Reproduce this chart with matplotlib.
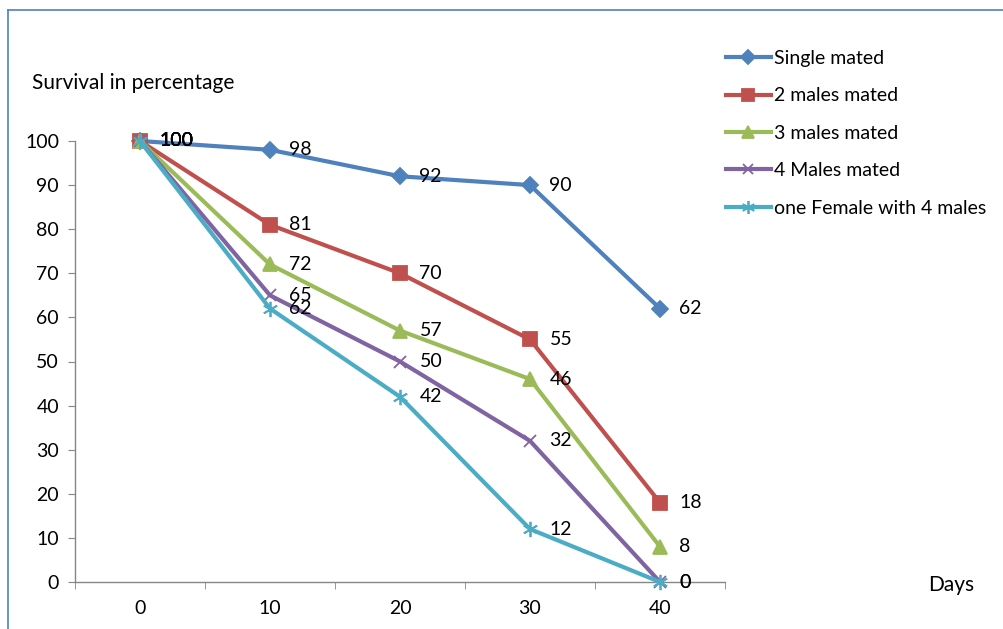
import numpy as np
import matplotlib.pyplot as plt

plt.rcParams['font.family'] = ['Lato', 'DejaVu Sans']

days = ['0', '10', '20', '30', '40']
single = [100, 98, 92, 90, 62]
two_males = [100, 81, 70, 55, 18]
three_males = [100, 72, 57, 46, 8]
four_males = [100, 65, 50, 32, 0]
female_four = [100, 62, 42, 12, 0]

series = [
    ('Single mated', single, '#4F81BD', 'D', 8),
    ('2 males mated', two_males, '#C0504D', 's', 10),
    ('3 males mated', three_males, '#9BBB59', '^', 10),
    ('4 Males mated', four_males, '#8064A2', 'x', 9),
    ('one Female with 4 males', female_four, '#4BACC6', (6, 2, 0), 11),
]

fig = plt.figure(figsize=(10.04, 6.29), dpi=100)
ax = fig.add_axes([75/1004, 1 - 582/629, 650/1004, 441/629])

x = np.arange(len(days))
for name, vals, col, mk, ms in series:
    ax.plot(x, vals, color=col, lw=3, marker=mk, ms=ms, mew=1.3,
            mec=col, mfc=col, label=name, clip_on=False, zorder=3)
    for xi, v in zip(x, vals):
        ax.annotate(str(v), (xi, v), xytext=(14, 0), textcoords='offset points',
                    va='center', ha='left', fontsize=14, color='black')

ax.set_xlim(-0.5, 4.5)
ax.set_ylim(0, 100)
ax.set_yticks(range(0, 101, 10))
ax.set_xticks(x)
ax.set_xticklabels(days)
ax.set_xticks(np.arange(-0.5, 5, 1), minor=True)
ax.tick_params(axis='x', which='major', length=0, pad=13, labelsize=14)
ax.tick_params(axis='x', which='minor', length=5, color='#868686', direction='out')
ax.tick_params(axis='y', length=5, color='#868686', pad=6.5, labelsize=14)

for side in ['top', 'right']:
    ax.spines[side].set_visible(False)
for side in ['left', 'bottom']:
    ax.spines[side].set_color('#868686')
    ax.spines[side].set_linewidth(1)

fig.text(32/1004, 1 - 83/629, 'Survival in percentage', fontsize=15, va='center', ha='left')
fig.text(951/1004, 1 - 585/629, 'Days', fontsize=15, va='center', ha='center')

leg = fig.legend(loc='upper left', bbox_to_anchor=(726/1004, 1 - 50/629), frameon=False,
                 fontsize=14, handlelength=2.3, labelspacing=1.05, handletextpad=0.15,
                 borderaxespad=0, borderpad=0, markerscale=0.85)

# chart frame
fig.add_artist(plt.Line2D([8/1004, 8/1004], [0, 1 - 10/629], color='#4F81BD', lw=1.2))
fig.add_artist(plt.Line2D([8/1004, 1], [1 - 10/629, 1 - 10/629], color='#4F81BD', lw=1.2))

fig.savefig('out.png', dpi=100)
